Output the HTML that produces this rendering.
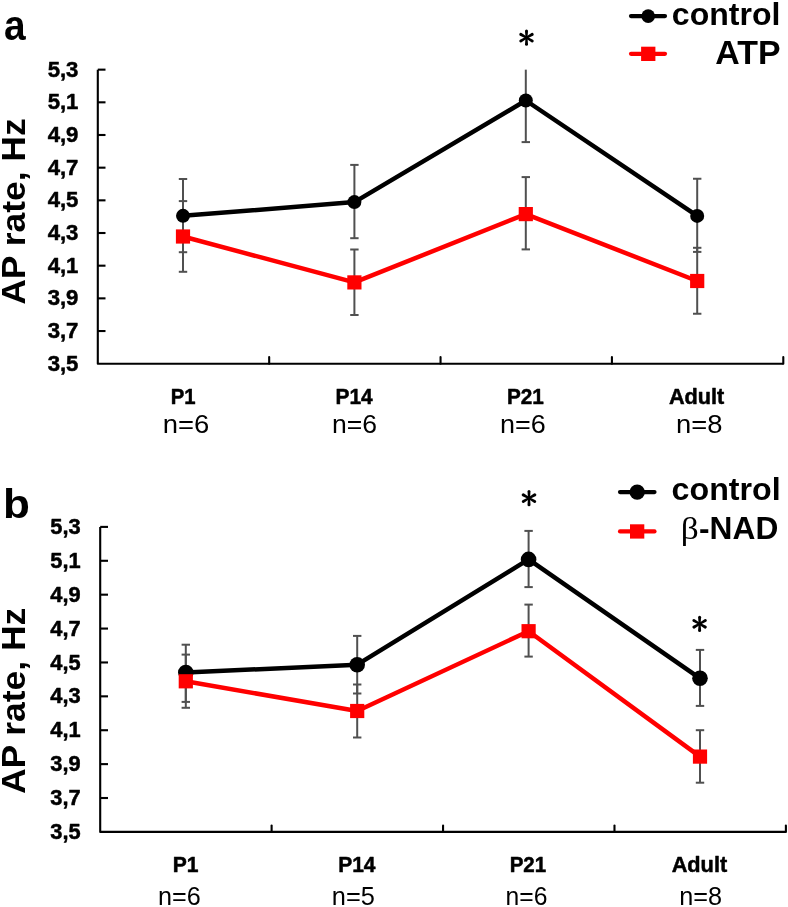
<!DOCTYPE html>
<html><head><meta charset="utf-8"><style>
html,body{margin:0;padding:0;background:#fff;}
svg{display:block;will-change:transform;}
</style></head><body>
<svg width="788" height="907" viewBox="0 0 788 907">
<rect width="788" height="907" fill="#fff"/>
<path d="M97.8 69.65 V363.7 H783.3" fill="none" stroke="#000" stroke-width="2.1" stroke-linejoin="round"/>
<line x1="97.8" y1="69.65" x2="105.5" y2="69.65" stroke="#000" stroke-width="2.1"/>
<line x1="97.8" y1="102.32" x2="105.5" y2="102.32" stroke="#000" stroke-width="2.1"/>
<line x1="97.8" y1="134.99" x2="105.5" y2="134.99" stroke="#000" stroke-width="2.1"/>
<line x1="97.8" y1="167.67" x2="105.5" y2="167.67" stroke="#000" stroke-width="2.1"/>
<line x1="97.8" y1="200.34" x2="105.5" y2="200.34" stroke="#000" stroke-width="2.1"/>
<line x1="97.8" y1="233.01" x2="105.5" y2="233.01" stroke="#000" stroke-width="2.1"/>
<line x1="97.8" y1="265.68" x2="105.5" y2="265.68" stroke="#000" stroke-width="2.1"/>
<line x1="97.8" y1="298.36" x2="105.5" y2="298.36" stroke="#000" stroke-width="2.1"/>
<line x1="97.8" y1="331.03" x2="105.5" y2="331.03" stroke="#000" stroke-width="2.1"/>
<line x1="269.18" y1="363.7" x2="269.18" y2="357" stroke="#000" stroke-width="2.1" stroke-linecap="round"/>
<line x1="440.55" y1="363.7" x2="440.55" y2="357" stroke="#000" stroke-width="2.1" stroke-linecap="round"/>
<line x1="611.92" y1="363.7" x2="611.92" y2="357" stroke="#000" stroke-width="2.1" stroke-linecap="round"/>
<line x1="783.30" y1="363.7" x2="783.30" y2="357" stroke="#000" stroke-width="2.1" stroke-linecap="round"/>
<line x1="183.0" y1="179.0" x2="183.0" y2="252.2" stroke="#505050" stroke-width="2.0"/>
<line x1="178.8" y1="179.0" x2="187.2" y2="179.0" stroke="#505050" stroke-width="2.0"/>
<line x1="178.8" y1="252.2" x2="187.2" y2="252.2" stroke="#505050" stroke-width="2.0"/>
<line x1="354.4" y1="164.9" x2="354.4" y2="238.2" stroke="#505050" stroke-width="2.0"/>
<line x1="350.2" y1="164.9" x2="358.59999999999997" y2="164.9" stroke="#505050" stroke-width="2.0"/>
<line x1="350.2" y1="238.2" x2="358.59999999999997" y2="238.2" stroke="#505050" stroke-width="2.0"/>
<line x1="525.8" y1="69.65" x2="525.8" y2="142.1" stroke="#505050" stroke-width="2.0"/>
<line x1="521.5999999999999" y1="142.1" x2="530.0" y2="142.1" stroke="#505050" stroke-width="2.0"/>
<line x1="697.2" y1="178.75" x2="697.2" y2="251.9" stroke="#505050" stroke-width="2.0"/>
<line x1="693.0" y1="178.75" x2="701.4000000000001" y2="178.75" stroke="#505050" stroke-width="2.0"/>
<line x1="693.0" y1="251.9" x2="701.4000000000001" y2="251.9" stroke="#505050" stroke-width="2.0"/>
<line x1="183.0" y1="201.1" x2="183.0" y2="271.8" stroke="#505050" stroke-width="2.0"/>
<line x1="178.8" y1="201.1" x2="187.2" y2="201.1" stroke="#505050" stroke-width="2.0"/>
<line x1="178.8" y1="271.8" x2="187.2" y2="271.8" stroke="#505050" stroke-width="2.0"/>
<line x1="354.4" y1="249.5" x2="354.4" y2="315.0" stroke="#505050" stroke-width="2.0"/>
<line x1="350.2" y1="249.5" x2="358.59999999999997" y2="249.5" stroke="#505050" stroke-width="2.0"/>
<line x1="350.2" y1="315.0" x2="358.59999999999997" y2="315.0" stroke="#505050" stroke-width="2.0"/>
<line x1="525.8" y1="177.1" x2="525.8" y2="249.4" stroke="#505050" stroke-width="2.0"/>
<line x1="521.5999999999999" y1="177.1" x2="530.0" y2="177.1" stroke="#505050" stroke-width="2.0"/>
<line x1="521.5999999999999" y1="249.4" x2="530.0" y2="249.4" stroke="#505050" stroke-width="2.0"/>
<line x1="697.2" y1="247.8" x2="697.2" y2="313.75" stroke="#505050" stroke-width="2.0"/>
<line x1="693.0" y1="247.8" x2="701.4000000000001" y2="247.8" stroke="#505050" stroke-width="2.0"/>
<line x1="693.0" y1="313.75" x2="701.4000000000001" y2="313.75" stroke="#505050" stroke-width="2.0"/>
<polyline points="183.0,215.85 354.4,202.1 525.8,100.5 697.2,215.9" fill="none" stroke="#000" stroke-width="4.5" stroke-linejoin="round"/>
<circle cx="183.0" cy="215.85" r="7.0" fill="#000"/>
<circle cx="354.4" cy="202.1" r="7.0" fill="#000"/>
<circle cx="525.8" cy="100.5" r="7.0" fill="#000"/>
<circle cx="697.2" cy="215.9" r="7.0" fill="#000"/>
<polyline points="183.0,236.5 354.4,282.4 525.8,214.1 697.2,281.0" fill="none" stroke="#ff0000" stroke-width="4.5" stroke-linejoin="round"/>
<rect x="175.9" y="229.4" width="14.2" height="14.2" fill="#ff0000"/>
<rect x="347.29999999999995" y="275.29999999999995" width="14.2" height="14.2" fill="#ff0000"/>
<rect x="518.6999999999999" y="207.0" width="14.2" height="14.2" fill="#ff0000"/>
<rect x="690.1" y="273.9" width="14.2" height="14.2" fill="#ff0000"/>
<path d="M527.50 37.70 L528.00 31.10 A1.50 1.50 0 0 0 525.00 31.10 L525.50 37.70Z" fill="#000"/><path d="M527.00 38.57 L532.97 35.70 A1.50 1.50 0 0 0 531.47 33.10 L526.00 36.83Z" fill="#000"/><path d="M527.00 36.83 L521.53 33.10 A1.50 1.50 0 0 0 520.03 35.70 L526.00 38.57Z" fill="#000"/><path d="M525.50 37.70 L525.00 44.30 A1.50 1.50 0 0 0 528.00 44.30 L527.50 37.70Z" fill="#000"/><path d="M526.00 36.83 L520.03 39.70 A1.50 1.50 0 0 0 521.53 42.30 L527.00 38.57Z" fill="#000"/><path d="M526.00 38.57 L531.47 42.30 A1.50 1.50 0 0 0 532.97 39.70 L527.00 36.83Z" fill="#000"/><circle cx="526.5" cy="37.7" r="1.80" fill="#000"/>
<line x1="631" y1="16.1" x2="665" y2="16.1" stroke="#000" stroke-width="4.2" stroke-linecap="round"/>
<circle cx="648.2" cy="16.1" r="6.8" fill="#000"/>
<line x1="631" y1="53.8" x2="665" y2="53.8" stroke="#ff0000" stroke-width="4.2" stroke-linecap="round"/>
<rect x="641.1" y="46.7" width="14.3" height="14.3" fill="#ff0000"/>
<path d="M100.2 526.9 V831.9 H785.9" fill="none" stroke="#000" stroke-width="2.1" stroke-linejoin="round"/>
<line x1="100.2" y1="526.90" x2="108" y2="526.90" stroke="#000" stroke-width="2.1"/>
<line x1="100.2" y1="560.79" x2="108" y2="560.79" stroke="#000" stroke-width="2.1"/>
<line x1="100.2" y1="594.68" x2="108" y2="594.68" stroke="#000" stroke-width="2.1"/>
<line x1="100.2" y1="628.57" x2="108" y2="628.57" stroke="#000" stroke-width="2.1"/>
<line x1="100.2" y1="662.46" x2="108" y2="662.46" stroke="#000" stroke-width="2.1"/>
<line x1="100.2" y1="696.34" x2="108" y2="696.34" stroke="#000" stroke-width="2.1"/>
<line x1="100.2" y1="730.23" x2="108" y2="730.23" stroke="#000" stroke-width="2.1"/>
<line x1="100.2" y1="764.12" x2="108" y2="764.12" stroke="#000" stroke-width="2.1"/>
<line x1="100.2" y1="798.01" x2="108" y2="798.01" stroke="#000" stroke-width="2.1"/>
<line x1="271.62" y1="831.9" x2="271.62" y2="825.5" stroke="#000" stroke-width="2.1" stroke-linecap="round"/>
<line x1="443.05" y1="831.9" x2="443.05" y2="825.5" stroke="#000" stroke-width="2.1" stroke-linecap="round"/>
<line x1="614.48" y1="831.9" x2="614.48" y2="825.5" stroke="#000" stroke-width="2.1" stroke-linecap="round"/>
<line x1="785.90" y1="831.9" x2="785.90" y2="825.5" stroke="#000" stroke-width="2.1" stroke-linecap="round"/>
<line x1="185.8" y1="644.7" x2="185.8" y2="701.9" stroke="#505050" stroke-width="2.0"/>
<line x1="181.60000000000002" y1="644.7" x2="190.0" y2="644.7" stroke="#505050" stroke-width="2.0"/>
<line x1="181.60000000000002" y1="701.9" x2="190.0" y2="701.9" stroke="#505050" stroke-width="2.0"/>
<line x1="357.2" y1="635.9" x2="357.2" y2="693.5" stroke="#505050" stroke-width="2.0"/>
<line x1="353.0" y1="635.9" x2="361.4" y2="635.9" stroke="#505050" stroke-width="2.0"/>
<line x1="353.0" y1="693.5" x2="361.4" y2="693.5" stroke="#505050" stroke-width="2.0"/>
<line x1="528.6" y1="530.9" x2="528.6" y2="587.1" stroke="#505050" stroke-width="2.0"/>
<line x1="524.4" y1="530.9" x2="532.8000000000001" y2="530.9" stroke="#505050" stroke-width="2.0"/>
<line x1="524.4" y1="587.1" x2="532.8000000000001" y2="587.1" stroke="#505050" stroke-width="2.0"/>
<line x1="700.0" y1="649.9" x2="700.0" y2="705.9" stroke="#505050" stroke-width="2.0"/>
<line x1="695.8" y1="649.9" x2="704.2" y2="649.9" stroke="#505050" stroke-width="2.0"/>
<line x1="695.8" y1="705.9" x2="704.2" y2="705.9" stroke="#505050" stroke-width="2.0"/>
<line x1="185.8" y1="654.6" x2="185.8" y2="707.8" stroke="#505050" stroke-width="2.0"/>
<line x1="181.60000000000002" y1="654.6" x2="190.0" y2="654.6" stroke="#505050" stroke-width="2.0"/>
<line x1="181.60000000000002" y1="707.8" x2="190.0" y2="707.8" stroke="#505050" stroke-width="2.0"/>
<line x1="357.2" y1="684.5" x2="357.2" y2="737.5" stroke="#505050" stroke-width="2.0"/>
<line x1="353.0" y1="684.5" x2="361.4" y2="684.5" stroke="#505050" stroke-width="2.0"/>
<line x1="353.0" y1="737.5" x2="361.4" y2="737.5" stroke="#505050" stroke-width="2.0"/>
<line x1="528.6" y1="604.6" x2="528.6" y2="656.6" stroke="#505050" stroke-width="2.0"/>
<line x1="524.4" y1="604.6" x2="532.8000000000001" y2="604.6" stroke="#505050" stroke-width="2.0"/>
<line x1="524.4" y1="656.6" x2="532.8000000000001" y2="656.6" stroke="#505050" stroke-width="2.0"/>
<line x1="700.0" y1="730.2" x2="700.0" y2="782.7" stroke="#505050" stroke-width="2.0"/>
<line x1="695.8" y1="730.2" x2="704.2" y2="730.2" stroke="#505050" stroke-width="2.0"/>
<line x1="695.8" y1="782.7" x2="704.2" y2="782.7" stroke="#505050" stroke-width="2.0"/>
<polyline points="185.8,672.5 357.2,664.7 528.6,559.4 700.0,678.3" fill="none" stroke="#000" stroke-width="4.5" stroke-linejoin="round"/>
<circle cx="185.8" cy="672.5" r="7.8" fill="#000"/>
<circle cx="357.2" cy="664.7" r="7.8" fill="#000"/>
<circle cx="528.6" cy="559.4" r="7.8" fill="#000"/>
<circle cx="700.0" cy="678.3" r="7.8" fill="#000"/>
<polyline points="185.8,681.3 357.2,711.0 528.6,631.2 700.0,756.6" fill="none" stroke="#ff0000" stroke-width="4.5" stroke-linejoin="round"/>
<rect x="178.70000000000002" y="674.1999999999999" width="14.2" height="14.2" fill="#ff0000"/>
<rect x="350.09999999999997" y="703.9" width="14.2" height="14.2" fill="#ff0000"/>
<rect x="521.5" y="624.1" width="14.2" height="14.2" fill="#ff0000"/>
<rect x="692.9" y="749.5" width="14.2" height="14.2" fill="#ff0000"/>
<path d="M530.00 498.20 L530.50 491.60 A1.50 1.50 0 0 0 527.50 491.60 L528.00 498.20Z" fill="#000"/><path d="M529.50 499.07 L535.47 496.20 A1.50 1.50 0 0 0 533.97 493.60 L528.50 497.33Z" fill="#000"/><path d="M529.50 497.33 L524.03 493.60 A1.50 1.50 0 0 0 522.53 496.20 L528.50 499.07Z" fill="#000"/><path d="M528.00 498.20 L527.50 504.80 A1.50 1.50 0 0 0 530.50 504.80 L530.00 498.20Z" fill="#000"/><path d="M528.50 497.33 L522.53 500.20 A1.50 1.50 0 0 0 524.03 502.80 L529.50 499.07Z" fill="#000"/><path d="M528.50 499.07 L533.97 502.80 A1.50 1.50 0 0 0 535.47 500.20 L529.50 497.33Z" fill="#000"/><circle cx="529.0" cy="498.2" r="1.80" fill="#000"/>
<path d="M700.60 623.80 L701.10 617.20 A1.50 1.50 0 0 0 698.10 617.20 L698.60 623.80Z" fill="#000"/><path d="M700.10 624.67 L706.07 621.80 A1.50 1.50 0 0 0 704.57 619.20 L699.10 622.93Z" fill="#000"/><path d="M700.10 622.93 L694.63 619.20 A1.50 1.50 0 0 0 693.13 621.80 L699.10 624.67Z" fill="#000"/><path d="M698.60 623.80 L698.10 630.40 A1.50 1.50 0 0 0 701.10 630.40 L700.60 623.80Z" fill="#000"/><path d="M699.10 622.93 L693.13 625.80 A1.50 1.50 0 0 0 694.63 628.40 L700.10 624.67Z" fill="#000"/><path d="M699.10 624.67 L704.57 628.40 A1.50 1.50 0 0 0 706.07 625.80 L700.10 622.93Z" fill="#000"/><circle cx="699.6" cy="623.8" r="1.80" fill="#000"/>
<line x1="620" y1="492.1" x2="654.5" y2="492.1" stroke="#000" stroke-width="4.2" stroke-linecap="round"/>
<circle cx="637.2" cy="492.1" r="7.7" fill="#000"/>
<line x1="620" y1="531.4" x2="654.5" y2="531.4" stroke="#ff0000" stroke-width="4.2" stroke-linecap="round"/>
<rect x="630.0" y="524.3" width="14.3" height="14.3" fill="#ff0000"/>
<text x="63.06" y="76.77" text-anchor="middle" font-family='"Liberation Sans", sans-serif' font-weight="bold" font-size="21.72" textLength="30.82" lengthAdjust="spacingAndGlyphs" stroke="#000" stroke-width="0.5" stroke-linejoin="round">5,3</text>
<text x="63.06" y="109.44" text-anchor="middle" font-family='"Liberation Sans", sans-serif' font-weight="bold" font-size="21.72" textLength="30.82" lengthAdjust="spacingAndGlyphs" stroke="#000" stroke-width="0.5" stroke-linejoin="round">5,1</text>
<text x="63.06" y="142.11" text-anchor="middle" font-family='"Liberation Sans", sans-serif' font-weight="bold" font-size="21.72" textLength="30.82" lengthAdjust="spacingAndGlyphs" stroke="#000" stroke-width="0.5" stroke-linejoin="round">4,9</text>
<text x="63.06" y="174.79" text-anchor="middle" font-family='"Liberation Sans", sans-serif' font-weight="bold" font-size="21.72" textLength="30.82" lengthAdjust="spacingAndGlyphs" stroke="#000" stroke-width="0.5" stroke-linejoin="round">4,7</text>
<text x="63.06" y="207.46" text-anchor="middle" font-family='"Liberation Sans", sans-serif' font-weight="bold" font-size="21.72" textLength="30.82" lengthAdjust="spacingAndGlyphs" stroke="#000" stroke-width="0.5" stroke-linejoin="round">4,5</text>
<text x="63.06" y="240.13" text-anchor="middle" font-family='"Liberation Sans", sans-serif' font-weight="bold" font-size="21.72" textLength="30.82" lengthAdjust="spacingAndGlyphs" stroke="#000" stroke-width="0.5" stroke-linejoin="round">4,3</text>
<text x="63.06" y="272.80" text-anchor="middle" font-family='"Liberation Sans", sans-serif' font-weight="bold" font-size="21.72" textLength="30.82" lengthAdjust="spacingAndGlyphs" stroke="#000" stroke-width="0.5" stroke-linejoin="round">4,1</text>
<text x="63.06" y="305.47" text-anchor="middle" font-family='"Liberation Sans", sans-serif' font-weight="bold" font-size="21.72" textLength="30.82" lengthAdjust="spacingAndGlyphs" stroke="#000" stroke-width="0.5" stroke-linejoin="round">3,9</text>
<text x="63.06" y="338.15" text-anchor="middle" font-family='"Liberation Sans", sans-serif' font-weight="bold" font-size="21.72" textLength="30.82" lengthAdjust="spacingAndGlyphs" stroke="#000" stroke-width="0.5" stroke-linejoin="round">3,7</text>
<text x="63.06" y="370.82" text-anchor="middle" font-family='"Liberation Sans", sans-serif' font-weight="bold" font-size="21.72" textLength="30.82" lengthAdjust="spacingAndGlyphs" stroke="#000" stroke-width="0.5" stroke-linejoin="round">3,5</text>
<text x="65.42" y="533.95" text-anchor="middle" font-family='"Liberation Sans", sans-serif' font-weight="bold" font-size="21.96" textLength="30.36" lengthAdjust="spacingAndGlyphs" stroke="#000" stroke-width="0.5" stroke-linejoin="round">5,3</text>
<text x="65.42" y="567.84" text-anchor="middle" font-family='"Liberation Sans", sans-serif' font-weight="bold" font-size="21.96" textLength="30.36" lengthAdjust="spacingAndGlyphs" stroke="#000" stroke-width="0.5" stroke-linejoin="round">5,1</text>
<text x="65.42" y="601.73" text-anchor="middle" font-family='"Liberation Sans", sans-serif' font-weight="bold" font-size="21.96" textLength="30.36" lengthAdjust="spacingAndGlyphs" stroke="#000" stroke-width="0.5" stroke-linejoin="round">4,9</text>
<text x="65.42" y="635.62" text-anchor="middle" font-family='"Liberation Sans", sans-serif' font-weight="bold" font-size="21.96" textLength="30.36" lengthAdjust="spacingAndGlyphs" stroke="#000" stroke-width="0.5" stroke-linejoin="round">4,7</text>
<text x="65.42" y="669.50" text-anchor="middle" font-family='"Liberation Sans", sans-serif' font-weight="bold" font-size="21.96" textLength="30.36" lengthAdjust="spacingAndGlyphs" stroke="#000" stroke-width="0.5" stroke-linejoin="round">4,5</text>
<text x="65.42" y="703.39" text-anchor="middle" font-family='"Liberation Sans", sans-serif' font-weight="bold" font-size="21.96" textLength="30.36" lengthAdjust="spacingAndGlyphs" stroke="#000" stroke-width="0.5" stroke-linejoin="round">4,3</text>
<text x="65.42" y="737.28" text-anchor="middle" font-family='"Liberation Sans", sans-serif' font-weight="bold" font-size="21.96" textLength="30.36" lengthAdjust="spacingAndGlyphs" stroke="#000" stroke-width="0.5" stroke-linejoin="round">4,1</text>
<text x="65.42" y="771.17" text-anchor="middle" font-family='"Liberation Sans", sans-serif' font-weight="bold" font-size="21.96" textLength="30.36" lengthAdjust="spacingAndGlyphs" stroke="#000" stroke-width="0.5" stroke-linejoin="round">3,9</text>
<text x="65.42" y="805.06" text-anchor="middle" font-family='"Liberation Sans", sans-serif' font-weight="bold" font-size="21.96" textLength="30.36" lengthAdjust="spacingAndGlyphs" stroke="#000" stroke-width="0.5" stroke-linejoin="round">3,7</text>
<text x="65.42" y="838.95" text-anchor="middle" font-family='"Liberation Sans", sans-serif' font-weight="bold" font-size="21.96" textLength="30.36" lengthAdjust="spacingAndGlyphs" stroke="#000" stroke-width="0.5" stroke-linejoin="round">3,5</text>
<text x="183.11" y="403.80" text-anchor="middle" font-family='"Liberation Sans", sans-serif' font-weight="bold" font-size="21.60" textLength="24.84" lengthAdjust="spacingAndGlyphs" stroke="#000" stroke-width="0.5" stroke-linejoin="round">P1</text>
<text x="354.12" y="403.80" text-anchor="middle" font-family='"Liberation Sans", sans-serif' font-weight="bold" font-size="21.60" textLength="37.18" lengthAdjust="spacingAndGlyphs" stroke="#000" stroke-width="0.5" stroke-linejoin="round">P14</text>
<text x="525.36" y="403.80" text-anchor="middle" font-family='"Liberation Sans", sans-serif' font-weight="bold" font-size="21.60" textLength="36.89" lengthAdjust="spacingAndGlyphs" stroke="#000" stroke-width="0.5" stroke-linejoin="round">P21</text>
<text x="696.63" y="403.80" text-anchor="middle" font-family='"Liberation Sans", sans-serif' font-weight="bold" font-size="21.60" textLength="55.38" lengthAdjust="spacingAndGlyphs" stroke="#000" stroke-width="0.5" stroke-linejoin="round">Adult</text>
<text x="185.93" y="432.50" text-anchor="middle" font-family='"Liberation Sans", sans-serif' font-weight="normal" font-size="25.40" textLength="46.54" lengthAdjust="spacingAndGlyphs">n=6</text>
<text x="354.51" y="432.50" text-anchor="middle" font-family='"Liberation Sans", sans-serif' font-weight="normal" font-size="25.40" textLength="45.06" lengthAdjust="spacingAndGlyphs">n=6</text>
<text x="522.92" y="432.50" text-anchor="middle" font-family='"Liberation Sans", sans-serif' font-weight="normal" font-size="25.40" textLength="45.76" lengthAdjust="spacingAndGlyphs">n=6</text>
<text x="699.17" y="432.50" text-anchor="middle" font-family='"Liberation Sans", sans-serif' font-weight="normal" font-size="25.40" textLength="46.45" lengthAdjust="spacingAndGlyphs">n=8</text>
<text x="185.55" y="872.20" text-anchor="middle" font-family='"Liberation Sans", sans-serif' font-weight="bold" font-size="21.60" textLength="25.77" lengthAdjust="spacingAndGlyphs" stroke="#000" stroke-width="0.5" stroke-linejoin="round">P1</text>
<text x="356.81" y="872.20" text-anchor="middle" font-family='"Liberation Sans", sans-serif' font-weight="bold" font-size="21.60" textLength="37.28" lengthAdjust="spacingAndGlyphs" stroke="#000" stroke-width="0.5" stroke-linejoin="round">P14</text>
<text x="527.91" y="872.20" text-anchor="middle" font-family='"Liberation Sans", sans-serif' font-weight="bold" font-size="21.60" textLength="36.56" lengthAdjust="spacingAndGlyphs" stroke="#000" stroke-width="0.5" stroke-linejoin="round">P21</text>
<text x="699.41" y="872.20" text-anchor="middle" font-family='"Liberation Sans", sans-serif' font-weight="bold" font-size="21.60" textLength="55.52" lengthAdjust="spacingAndGlyphs" stroke="#000" stroke-width="0.5" stroke-linejoin="round">Adult</text>
<text x="179.31" y="905.10" text-anchor="middle" font-family='"Liberation Sans", sans-serif' font-weight="normal" font-size="24.90" textLength="42.73" lengthAdjust="spacingAndGlyphs">n=6</text>
<text x="353.31" y="905.10" text-anchor="middle" font-family='"Liberation Sans", sans-serif' font-weight="normal" font-size="24.90" textLength="43.06" lengthAdjust="spacingAndGlyphs">n=5</text>
<text x="526.50" y="905.10" text-anchor="middle" font-family='"Liberation Sans", sans-serif' font-weight="normal" font-size="24.90" textLength="41.88" lengthAdjust="spacingAndGlyphs">n=6</text>
<text x="700.60" y="905.10" text-anchor="middle" font-family='"Liberation Sans", sans-serif' font-weight="normal" font-size="24.90" textLength="42.85" lengthAdjust="spacingAndGlyphs">n=8</text>
<text x="14.84" y="39.73" text-anchor="middle" font-family='"Liberation Sans", sans-serif' font-weight="bold" font-size="42.70" textLength="21.65" lengthAdjust="spacingAndGlyphs">a</text>
<text x="16.57" y="517.60" text-anchor="middle" font-family='"Liberation Sans", sans-serif' font-weight="bold" font-size="40.95" textLength="26.93" lengthAdjust="spacingAndGlyphs">b</text>
<text x="726.19" y="25.00" text-anchor="middle" font-family='"Liberation Sans", sans-serif' font-weight="bold" font-size="31.14" textLength="108.62" lengthAdjust="spacingAndGlyphs">control</text>
<text x="747.91" y="63.60" text-anchor="middle" font-family='"Liberation Sans", sans-serif' font-weight="bold" font-size="33.18" textLength="65.24" lengthAdjust="spacingAndGlyphs">ATP</text>
<text x="726.12" y="500.40" text-anchor="middle" font-family='"Liberation Sans", sans-serif' font-weight="bold" font-size="31.03" textLength="109.08" lengthAdjust="spacingAndGlyphs">control</text>
<text x="689.69" y="538.61" text-anchor="middle" font-family='"Liberation Serif", serif' font-weight="normal" font-size="32.15" textLength="18.01" lengthAdjust="spacingAndGlyphs">β</text>
<text x="738.67" y="538.60" text-anchor="middle" font-family='"Liberation Sans", sans-serif' font-weight="bold" font-size="31.75" textLength="79.24" lengthAdjust="spacingAndGlyphs">-NAD</text>
<text transform="translate(24.90 211.59) rotate(-90)" x="0" y="0" text-anchor="middle" font-family='"Liberation Sans", sans-serif' font-weight="bold" font-size="33.31" textLength="186.37" lengthAdjust="spacingAndGlyphs">AP rate, Hz</text>
<text transform="translate(24.90 700.91) rotate(-90)" x="0" y="0" text-anchor="middle" font-family='"Liberation Sans", sans-serif' font-weight="bold" font-size="33.31" textLength="186.31" lengthAdjust="spacingAndGlyphs">AP rate, Hz</text>
</svg>
</body></html>
